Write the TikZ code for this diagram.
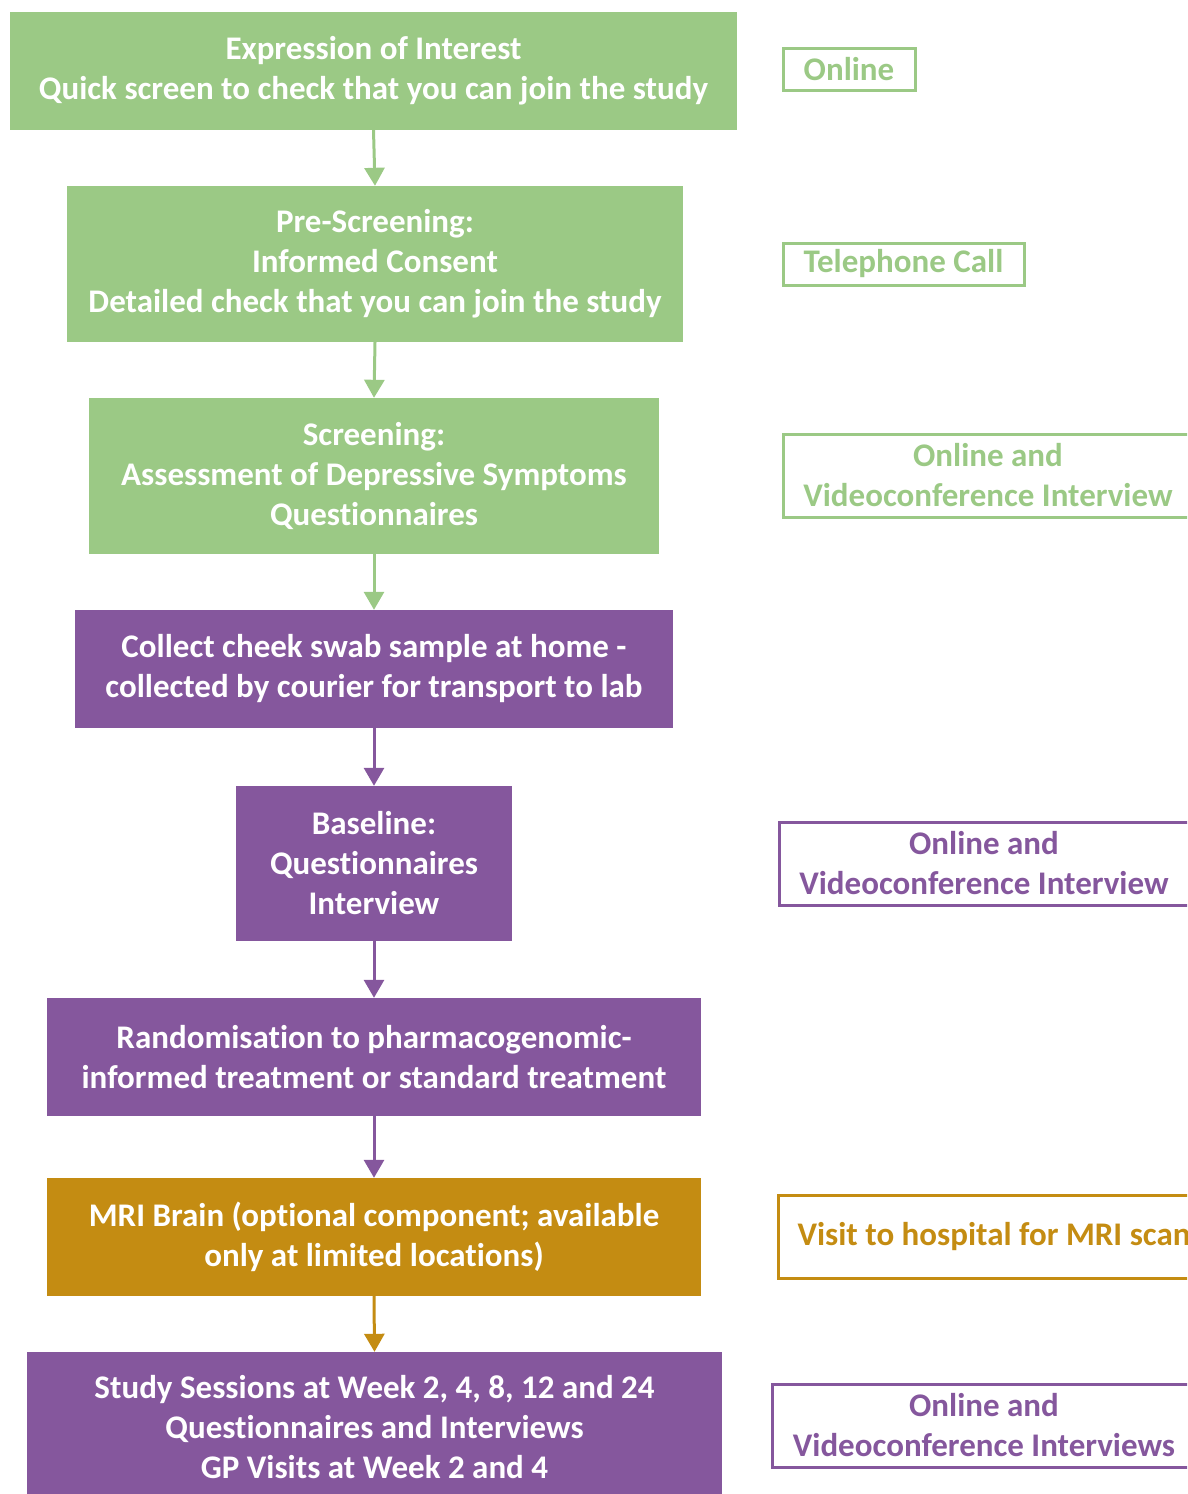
\documentclass[tikz,border=0pt]{standalone}
\usepackage{fontspec}
\setmainfont{Carlito}[Ligatures=NoCommon]
\usetikzlibrary{arrows.meta}
\definecolor{stepgreen}{RGB}{155,201,133}
\definecolor{steppurple}{RGB}{133,87,157}
\definecolor{stepgold}{RGB}{196,140,18}
\tikzset{
  stepbox/.style={
    fill=#1, text=white, align=center, inner sep=0pt,
    font=\bfseries\fontsize{33}{40}\selectfont
  },
  notebox/.style={
    draw=#1, text=#1, line width=3pt, align=center, inner sep=0pt,
    font=\bfseries\fontsize{33}{40}\selectfont
  },
  flow/.style={
    draw=#1, line width=3pt, -{Triangle[width=20pt,length=18pt,fill=#1]}
  }
}

\begin{document}
\begin{tikzpicture}[x=1pt,y=-1pt]
		\useasboundingbox (0,0) rectangle (1187,1494);
		\clip (0,0) rectangle (1187,1494);
		% steps of the study
		\node[stepbox=stepgreen, minimum width=727pt, minimum height=118pt] (interest) at (373.5,71)
			{Expression of Interest\\Quick screen to check that you can join the study};
		\node[stepbox=stepgreen, minimum width=616pt, minimum height=156pt] (prescreen) at (375,264)
			{Pre-Screening:\\Informed Consent\\Detailed check that you can join the study};
		\node[stepbox=stepgreen, minimum width=570pt, minimum height=156pt] (screen) at (374,476)
			{Screening:\\Assessment of Depressive Symptoms\\Questionnaires};
		\node[stepbox=steppurple, minimum width=598pt, minimum height=118pt] (swab) at (374,669)
			{Collect cheek swab sample at home -\\collected by courier for transport to lab};
		\node[stepbox=steppurple, minimum width=276pt, minimum height=155pt] (baseline) at (374,863.5)
			{Baseline:\\Questionnaires\\Interview};
		\node[stepbox=steppurple, minimum width=654pt, minimum height=118pt] (random) at (374,1057)
			{Randomisation to pharmacogenomic-\\informed treatment or standard treatment};
		\node[stepbox=stepgold, minimum width=654pt, minimum height=118pt] (mri) at (374,1237)
			{MRI Brain (optional component; available\\only at limited locations)};
		\node[stepbox=steppurple, minimum width=695pt, minimum height=150pt] (sessions) at (374.5,1427)
			{Study Sessions at Week 2, 4, 8, 12 and 24\\Questionnaires and Interviews\\GP Visits at Week 2 and 4};
		%
		\draw[flow=stepgreen] (interest.south) -- (prescreen.north);
		\draw[flow=stepgreen] (prescreen.south) -- (screen.north);
		\draw[flow=stepgreen] (screen.south) -- (swab.north);
		\draw[flow=steppurple] (swab.south) -- (baseline.north);
		\draw[flow=steppurple] (baseline.south) -- (random.north);
		\draw[flow=steppurple] (random.south) -- (mri.north);
		\draw[flow=stepgold] (mri.south) -- (sessions.north);
		% how each step is done
		\node[notebox=stepgreen, minimum width=132pt, minimum height=42pt] (online) at (849,69) {Online};
		\node[notebox=stepgreen, minimum width=241pt, minimum height=42pt] (phone) at (903.5,264) {Telephone Call};
		\node[notebox=stepgreen, minimum width=410pt, minimum height=83pt] (video) at (988,475.5)
			{Online and\\Videoconference Interview};
		\node[notebox=steppurple, minimum width=410pt, minimum height=83pt] (videobase) at (984,863.5)
			{Online and\\Videoconference Interview};
		\node[notebox=stepgold, minimum width=432pt, minimum height=83pt] (hospital) at (994,1236.5)
			{Visit to hospital for MRI scan};
		\node[notebox=steppurple, minimum width=424pt, minimum height=83pt] (videosessions) at (984,1425.5)
			{Online and\\Videoconference Interviews};
	\end{tikzpicture}
\end{document}
